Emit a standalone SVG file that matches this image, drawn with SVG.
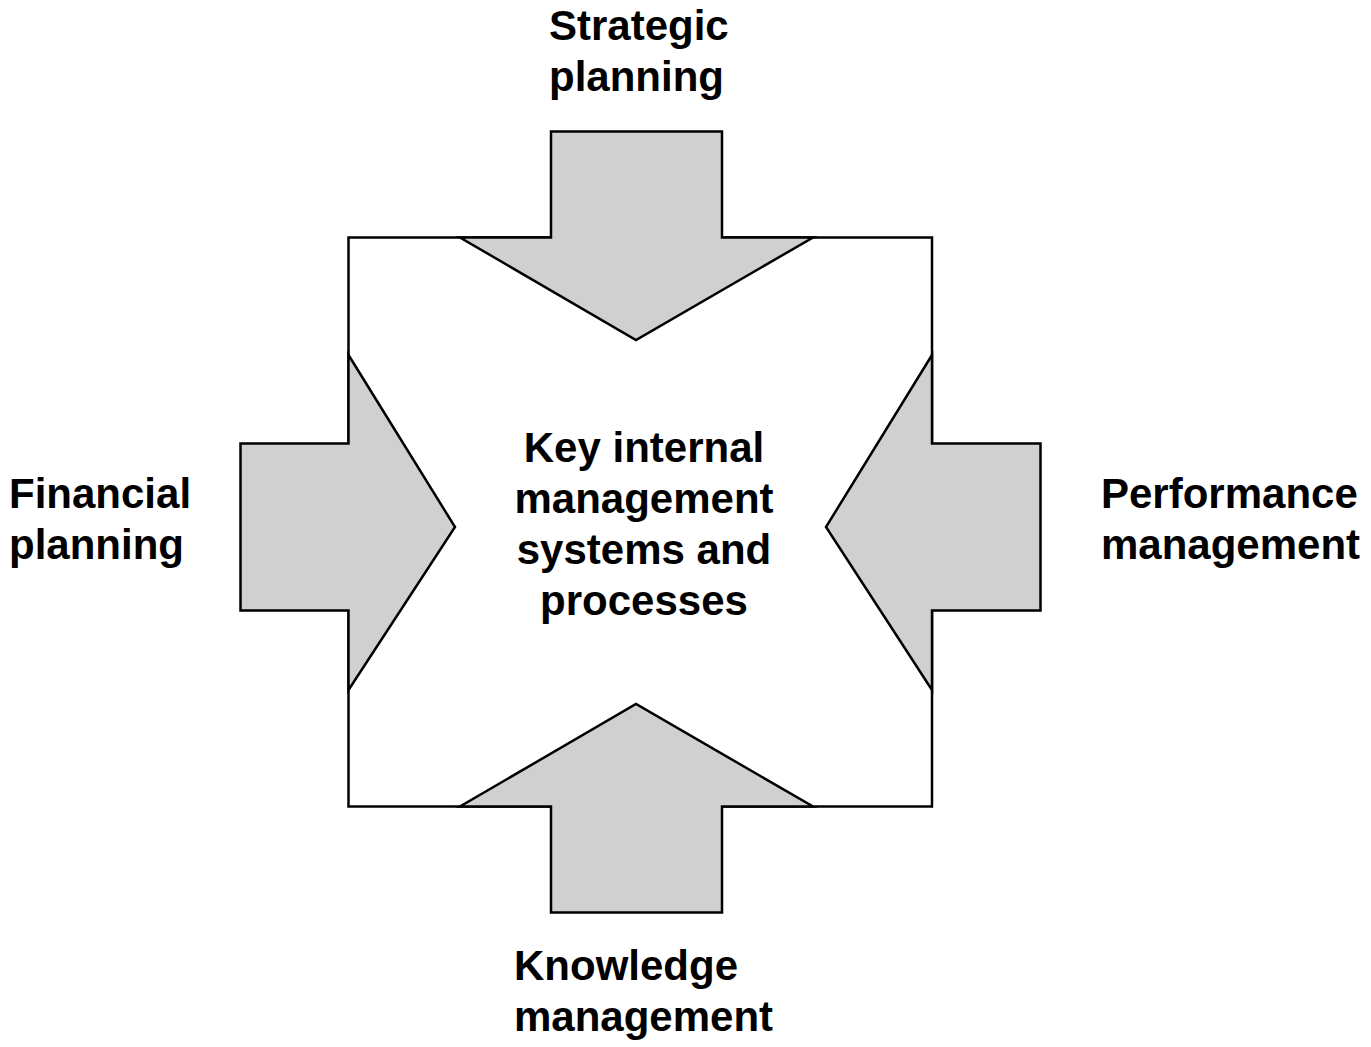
<svg xmlns="http://www.w3.org/2000/svg" width="1371" height="1047" viewBox="0 0 1371 1047">
<style>
.arrow{fill:#d0d0d0;stroke:#000;stroke-width:2.5;stroke-linejoin:miter}
.box{fill:#fff;stroke:#000;stroke-width:2.5}
text{font-family:"Liberation Sans",Arial,sans-serif;font-weight:bold;font-size:42px;fill:#000}
</style>
<rect width="1371" height="1047" fill="#fff"/>
<g id="center">
<rect class="box" x="348.5" y="237.5" width="583.5" height="569"/>
<text text-anchor="middle"><tspan x="644" y="462">Key internal</tspan><tspan x="644" y="513">management</tspan><tspan x="644" y="564">systems and</tspan><tspan x="644" y="615">processes</tspan></text>
</g>
<g id="connectors">
<polygon id="arrow-top" class="arrow" points="551,131.5 722,131.5 722,237.5 813,237.5 636,340 460,237.5 551,237.5"/>
<polygon id="arrow-bottom" class="arrow" points="551,912.5 722,912.5 722,806.5 813,806.5 636,704 460,806.5 551,806.5"/>
<polygon id="arrow-left" class="arrow" points="240.5,443.5 348.5,443.5 348.5,355 455,527 348.5,690 348.5,610.5 240.5,610.5"/>
<polygon id="arrow-right" class="arrow" points="1040.5,443.5 932,443.5 932,355 826,527 932,690 932,610.5 1040.5,610.5"/>
</g>
<g id="strategic"><text x="549" y="40">Strategic<tspan x="549" y="91">planning</tspan></text></g>
<g id="financial"><text x="9" y="508">Financial<tspan x="9" y="559">planning</tspan></text></g>
<g id="performance"><text x="1101" y="508">Performance<tspan x="1101" y="559">management</tspan></text></g>
<g id="knowledge"><text x="514" y="980">Knowledge<tspan x="514" y="1031">management</tspan></text></g>
</svg>
